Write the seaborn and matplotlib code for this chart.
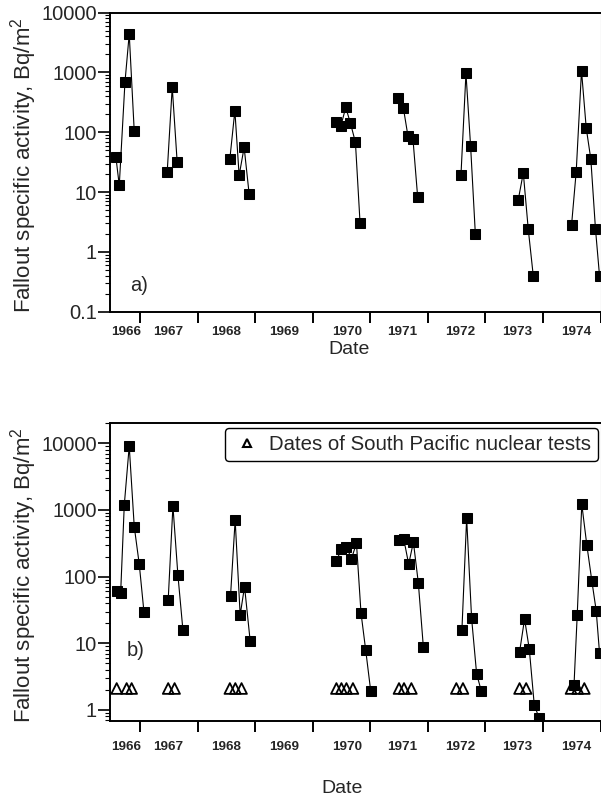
import numpy as np
import pandas as pd
import matplotlib
matplotlib.use("Agg")
import matplotlib.pyplot as plt
from matplotlib.ticker import FixedLocator, LogLocator, NullFormatter, FuncFormatter
from matplotlib.lines import Line2D
import seaborn as sns

# ---------------- data ----------------
top_dates = [1966.583, 1966.641, 1966.740, 1966.814, 1966.901,
             1967.474, 1967.561, 1967.647,
             1968.562, 1968.649, 1968.723, 1968.810, 1968.897,
             1970.413, 1970.488, 1970.575, 1970.656, 1970.743, 1970.823,
             1971.489, 1971.576, 1971.656, 1971.743, 1971.824,
             1972.576, 1972.663, 1972.744, 1972.826,
             1973.572, 1973.659, 1973.745, 1973.832,
             1974.497, 1974.578, 1974.670, 1974.752, 1974.832, 1974.913, 1974.983]
top_values = [38, 13, 690, 4400, 104,
              22, 570, 31.5,
              36, 230, 19, 56, 9.3,
              147, 126, 260, 143, 68, 3.1,
              370, 255, 86, 76, 8.3,
              19, 970, 58, 2.0,
              7.5, 21, 2.4, 0.4,
              2.8, 22, 1070, 118, 35.5, 2.4, 0.4]
top_groups = [1966] * 5 + [1967] * 3 + [1968] * 5 + [1970] * 6 + [1971] * 5 + \
             [1972] * 4 + [1973] * 4 + [1974] * 7

bot_dates = [1966.596, 1966.665, 1966.728, 1966.814, 1966.901, 1966.988, 1967.069,
             1967.491, 1967.573, 1967.659, 1967.746,
             1968.574, 1968.654, 1968.741, 1968.817, 1968.914,
             1970.413, 1970.500, 1970.587, 1970.674, 1970.761, 1970.840, 1970.922, 1971.009,
             1971.500, 1971.581, 1971.668, 1971.750, 1971.836, 1971.923,
             1972.593, 1972.675, 1972.761, 1972.848, 1972.930,
             1973.594, 1973.681, 1973.763, 1973.850, 1973.936,
             1974.540, 1974.596, 1974.675, 1974.762, 1974.849, 1974.925, 1974.983]
bot_values = [61, 57, 1190, 9100, 565, 154, 30,
              45, 1150, 107, 16,
              52, 710, 26.6, 71, 11,
              173, 259, 283, 185, 318, 28.5, 7.85, 1.91,
              356, 373, 154, 330, 80, 8.8,
              16, 753, 23.7, 3.5, 1.91,
              7.4, 23.2, 8.2, 1.18, 0.75,
              2.38, 27, 1220, 300, 87, 31, 7.2]
bot_groups = [1966] * 7 + [1967] * 4 + [1968] * 5 + [1970] * 8 + [1971] * 6 + \
             [1972] * 5 + [1973] * 5 + [1974] * 7

test_dates = [1966.596, 1966.769, 1966.856,
              1967.491, 1967.602,
              1968.562, 1968.657, 1968.765,
              1970.413, 1970.500, 1970.587, 1970.700,
              1971.500, 1971.587, 1971.715,
              1972.496, 1972.611,
              1973.594, 1973.709,
              1974.488, 1974.603, 1974.719]
test_level = [2.1] * len(test_dates)

year_ticks = [1967, 1968, 1969, 1970, 1971, 1972, 1973, 1974, 1975]
year_labels = ["1966", "1967", "1968", "1969", "1970", "1971", "1972", "1973", "1974"]
year_label_pos = [1966.754, 1967.491, 1968.489, 1969.499, 1970.601,
                  1971.561, 1972.558, 1973.551, 1974.578]

ylabel = "Fallout specific activity, Bq/m$^2$"
legend_label = "Dates of South Pacific nuclear tests"

# ---------------- style ----------------
sns.set_style("ticks")
plt.rcParams["font.family"] = ["Liberation Sans", "DejaVu Sans"]
plt.rcParams["mathtext.default"] = "regular"

df_top = pd.DataFrame({"date": top_dates, "value": top_values, "grp": top_groups})
df_bot = pd.DataFrame({"date": bot_dates, "value": bot_values, "grp": bot_groups})
df_test = pd.DataFrame({"date": test_dates, "value": test_level})

fig = plt.figure(figsize=(6.01, 8.01), dpi=100)
W, H = 601.0, 801.0
ax1 = fig.add_axes([110 / W, (H - 311.7) / H, 490.5 / W, 299 / H])
ax2 = fig.add_axes([110 / W, (H - 720.7) / H, 490.5 / W, 298 / H])

for ax, df in ((ax1, df_top), (ax2, df_bot)):
    sns.lineplot(data=df, x="date", y="value", units="grp", estimator=None,
                 color="black", linewidth=0.8, marker="s", markersize=7.5,
                 markeredgecolor="black", markerfacecolor="black", ax=ax,
                 legend=False)

sns.scatterplot(data=df_test, x="date", y="value", marker="^", s=60,
                color="black", linewidth=1.3, ax=ax2, legend=False, zorder=3)
tri = ax2.collections[-1]
tri.set_facecolor("none")
tri.set_edgecolor("black")

ax1.set_yscale("log")
ax2.set_yscale("log")
ax1.set_ylim(0.1, 10000)
ax2.set_ylim(0.69, 20400)

for ax in (ax1, ax2):
    ax.set_xlim(1966.48, 1975.0)
    ax.xaxis.set_major_locator(FixedLocator(year_ticks))
    ax.xaxis.set_major_formatter(NullFormatter())
    ax.set_xticks(year_label_pos, labels=year_labels, minor=True,
                  fontweight="bold", fontsize=9.7)
    ax.tick_params(axis="x", which="major", direction="out", length=8,
                   width=1.4, color="black", top=False)
    ax.yaxis.set_major_locator(LogLocator(base=10, numticks=20))
    ax.yaxis.set_minor_locator(LogLocator(base=10, subs=np.arange(2, 10), numticks=100))
    ax.yaxis.set_major_formatter(FuncFormatter(lambda v, p: f"{v:g}"))
    ax.yaxis.set_minor_formatter(NullFormatter())
    ax.tick_params(axis="y", which="major", direction="out", length=8.5,
                   width=1.2, labelsize=14.5, pad=1, right=False, color="black")
    ax.tick_params(axis="y", which="minor", direction="out", length=3.5,
                   width=0.8, right=False, color="black")
    for s in ("left", "bottom", "top"):
        ax.spines[s].set_color("black")
        ax.spines[s].set_linewidth(1.4)
    ax.spines["right"].set_color("#9a9a9a")
    ax.spines["right"].set_linewidth(0.8)
    ax.set_ylabel(ylabel, fontsize=16)
    ax.set_xlabel("Date", fontsize=14)
    ax.yaxis.set_label_coords(-0.145, 0.49)
    ax.grid(False)

ax1.tick_params(axis="x", which="minor", length=0, pad=10.2)
ax2.tick_params(axis="x", which="minor", length=0, pad=14.6)
ax1.xaxis.set_label_coords(0.488, -0.098)
ax2.xaxis.set_label_coords(0.473, -0.199)

ax1.text(0.041, 0.086, "a)", transform=ax1.transAxes, fontsize=14.5, va="center", ha="left")
ax2.text(0.034, 0.237, "b)", transform=ax2.transAxes, fontsize=14.5, va="center", ha="left")

handle = Line2D([], [], marker="^", linestyle="", markerfacecolor="none",
                markeredgecolor="black", markersize=6, markeredgewidth=1.5)
leg = ax2.legend([handle], [legend_label], loc="upper right",
                 bbox_to_anchor=(598 / W, (H - 428) / H),
                 bbox_transform=fig.transFigure, borderaxespad=0,
                 fontsize=14.7, frameon=True, fancybox=True,
                 handlelength=1.4, handletextpad=0.38, borderpad=0.35)
leg.get_frame().set_edgecolor("black")
leg.get_frame().set_linewidth(1.0)
leg.get_frame().set_alpha(1.0)

fig.savefig("out.png", dpi=100)
